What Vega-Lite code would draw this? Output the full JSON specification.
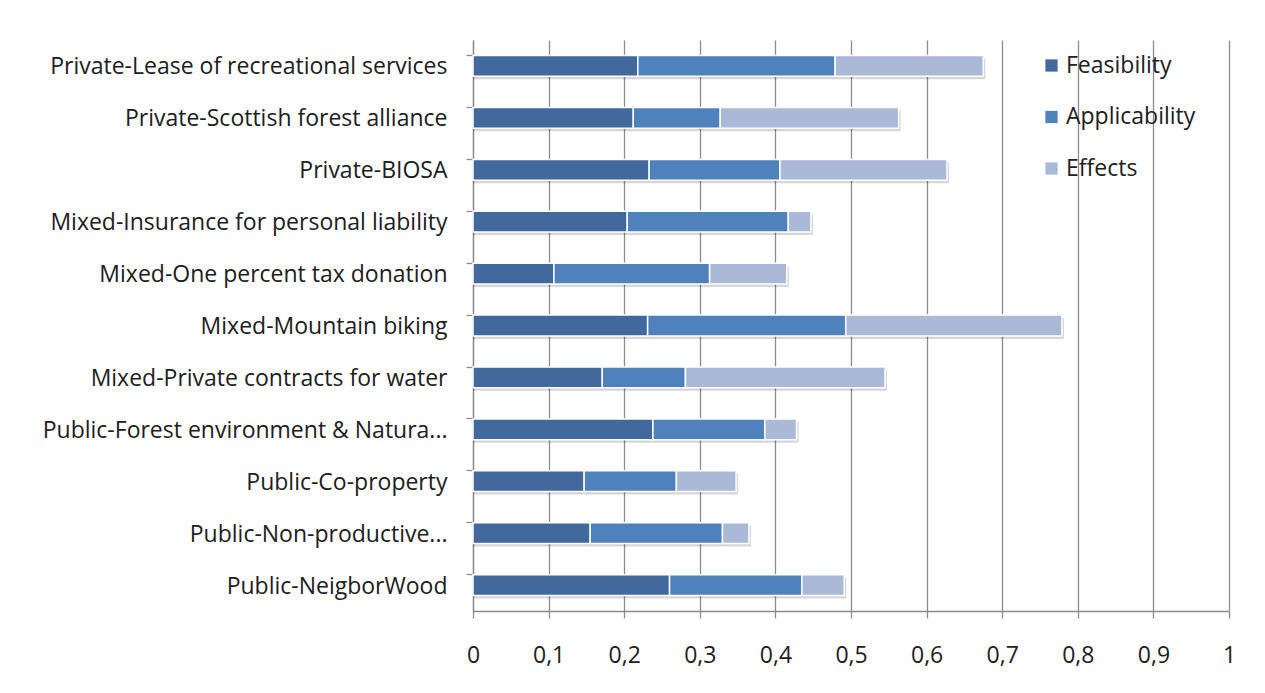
{
  "$schema": "https://vega.github.io/schema/vega-lite/v6.json",
  "width": 756,
  "height": 571,
  "autosize": {"type": "none"},
  "padding": {"left": 473, "top": 40, "right": 36, "bottom": 82},
  "background": "white",
  "config": {"view": {"stroke": null}, "font": "Open Sans"},
  "data": {
    "values": [
      {"strategy": "Private-Lease of recreational services", "measure": "Feasibility", "value": 0.218},
      {"strategy": "Private-Lease of recreational services", "measure": "Applicability", "value": 0.261},
      {"strategy": "Private-Lease of recreational services", "measure": "Effects", "value": 0.196},
      {"strategy": "Private-Scottish forest alliance", "measure": "Feasibility", "value": 0.212},
      {"strategy": "Private-Scottish forest alliance", "measure": "Applicability", "value": 0.115},
      {"strategy": "Private-Scottish forest alliance", "measure": "Effects", "value": 0.236},
      {"strategy": "Private-BIOSA", "measure": "Feasibility", "value": 0.233},
      {"strategy": "Private-BIOSA", "measure": "Applicability", "value": 0.173},
      {"strategy": "Private-BIOSA", "measure": "Effects", "value": 0.221},
      {"strategy": "Mixed-Insurance for personal liability", "measure": "Feasibility", "value": 0.204},
      {"strategy": "Mixed-Insurance for personal liability", "measure": "Applicability", "value": 0.213},
      {"strategy": "Mixed-Insurance for personal liability", "measure": "Effects", "value": 0.030},
      {"strategy": "Mixed-One percent tax donation", "measure": "Feasibility", "value": 0.107},
      {"strategy": "Mixed-One percent tax donation", "measure": "Applicability", "value": 0.206},
      {"strategy": "Mixed-One percent tax donation", "measure": "Effects", "value": 0.102},
      {"strategy": "Mixed-Mountain biking", "measure": "Feasibility", "value": 0.231},
      {"strategy": "Mixed-Mountain biking", "measure": "Applicability", "value": 0.262},
      {"strategy": "Mixed-Mountain biking", "measure": "Effects", "value": 0.286},
      {"strategy": "Mixed-Private contracts for water", "measure": "Feasibility", "value": 0.171},
      {"strategy": "Mixed-Private contracts for water", "measure": "Applicability", "value": 0.110},
      {"strategy": "Mixed-Private contracts for water", "measure": "Effects", "value": 0.264},
      {"strategy": "Public-Forest environment & Natura...", "measure": "Feasibility", "value": 0.238},
      {"strategy": "Public-Forest environment & Natura...", "measure": "Applicability", "value": 0.148},
      {"strategy": "Public-Forest environment & Natura...", "measure": "Effects", "value": 0.042},
      {"strategy": "Public-Co-property", "measure": "Feasibility", "value": 0.147},
      {"strategy": "Public-Co-property", "measure": "Applicability", "value": 0.122},
      {"strategy": "Public-Co-property", "measure": "Effects", "value": 0.079},
      {"strategy": "Public-Non-productive...", "measure": "Feasibility", "value": 0.155},
      {"strategy": "Public-Non-productive...", "measure": "Applicability", "value": 0.175},
      {"strategy": "Public-Non-productive...", "measure": "Effects", "value": 0.035},
      {"strategy": "Public-NeigborWood", "measure": "Feasibility", "value": 0.260},
      {"strategy": "Public-NeigborWood", "measure": "Applicability", "value": 0.175},
      {"strategy": "Public-NeigborWood", "measure": "Effects", "value": 0.056}
    ]
  },
  "transform": [
    {"calculate": "indexof(['Feasibility','Applicability','Effects'], datum.measure)", "as": "ord"}
  ],
  "encoding": {
    "y": {
      "field": "strategy",
      "type": "nominal",
      "sort": null,
      "scale": {"paddingInner": 0.6, "paddingOuter": 0.3},
      "axis": {
        "title": null,
        "bandPosition": 0,
        "domainColor": "#8c8c8c",
        "domainWidth": 1.3,
        "tickColor": "#8c8c8c",
        "tickWidth": 1.3,
        "tickSize": 7,
        "labelPadding": 19,
        "labelOffset": 1.5,
        "labelFontSize": 23,
        "labelFont": "Open Sans",
        "labelColor": "#202020",
        "labelLimit": 600,
        "grid": false
      }
    }
  },
  "layer": [
    {
      "mark": {"type": "bar", "color": "#000000", "opacity": 0.16, "xOffset": 2, "x2Offset": 3, "yOffset": 3, "y2Offset": 3},
      "encoding": {
        "x": {
          "aggregate": "sum",
          "field": "value",
          "type": "quantitative",
          "scale": {"domain": [0, 1]},
          "axis": {
            "title": null,
            "values": [0, 0.1, 0.2, 0.3, 0.4, 0.5, 0.6, 0.7, 0.8, 0.9, 1],
            "labelExpr": "replace(format(datum.value, '.1~f'), '.', ',')",
            "grid": true,
            "gridColor": "#8c8c8c",
            "gridWidth": 1.3,
            "domainColor": "#8c8c8c",
            "domainWidth": 1.3,
            "tickColor": "#8c8c8c",
            "tickWidth": 1.3,
            "tickSize": 7,
            "labelPadding": 26,
            "labelFontSize": 23,
            "labelFont": "Open Sans",
            "labelColor": "#202020",
            "labelFlush": false,
            "labelOverlap": false
          }
        }
      }
    },
    {
      "mark": {"type": "bar", "stroke": "white", "strokeWidth": 1.5},
      "encoding": {
        "x": {
          "field": "value",
          "type": "quantitative",
          "stack": "zero",
          "scale": {"domain": [0, 1]},
          "axis": {
            "title": null,
            "values": [0, 0.1, 0.2, 0.3, 0.4, 0.5, 0.6, 0.7, 0.8, 0.9, 1],
            "labelExpr": "replace(format(datum.value, '.1~f'), '.', ',')",
            "grid": true,
            "gridColor": "#8c8c8c",
            "gridWidth": 1.3,
            "domainColor": "#8c8c8c",
            "domainWidth": 1.3,
            "tickColor": "#8c8c8c",
            "tickWidth": 1.3,
            "tickSize": 7,
            "labelPadding": 26,
            "labelFontSize": 23,
            "labelFont": "Open Sans",
            "labelColor": "#202020",
            "labelFlush": false,
            "labelOverlap": false
          }
        },
        "color": {
          "field": "measure",
          "type": "nominal",
          "scale": {
            "domain": ["Feasibility", "Applicability", "Effects"],
            "range": ["#41699B", "#4F81BD", "#AAB9D7"]
          },
          "legend": {
            "title": null,
            "orient": "none",
            "legendX": 567,
            "legendY": 14,
            "symbolType": "square",
            "symbolSize": 150,
            "symbolStrokeWidth": 0,
            "labelFontSize": 23,
            "labelFont": "Open Sans",
            "labelColor": "#202020",
            "labelOffset": 3,
            "rowPadding": 27.5,
            "padding": 0
          }
        },
        "order": {"field": "ord", "type": "quantitative"}
      }
    }
  ]
}
